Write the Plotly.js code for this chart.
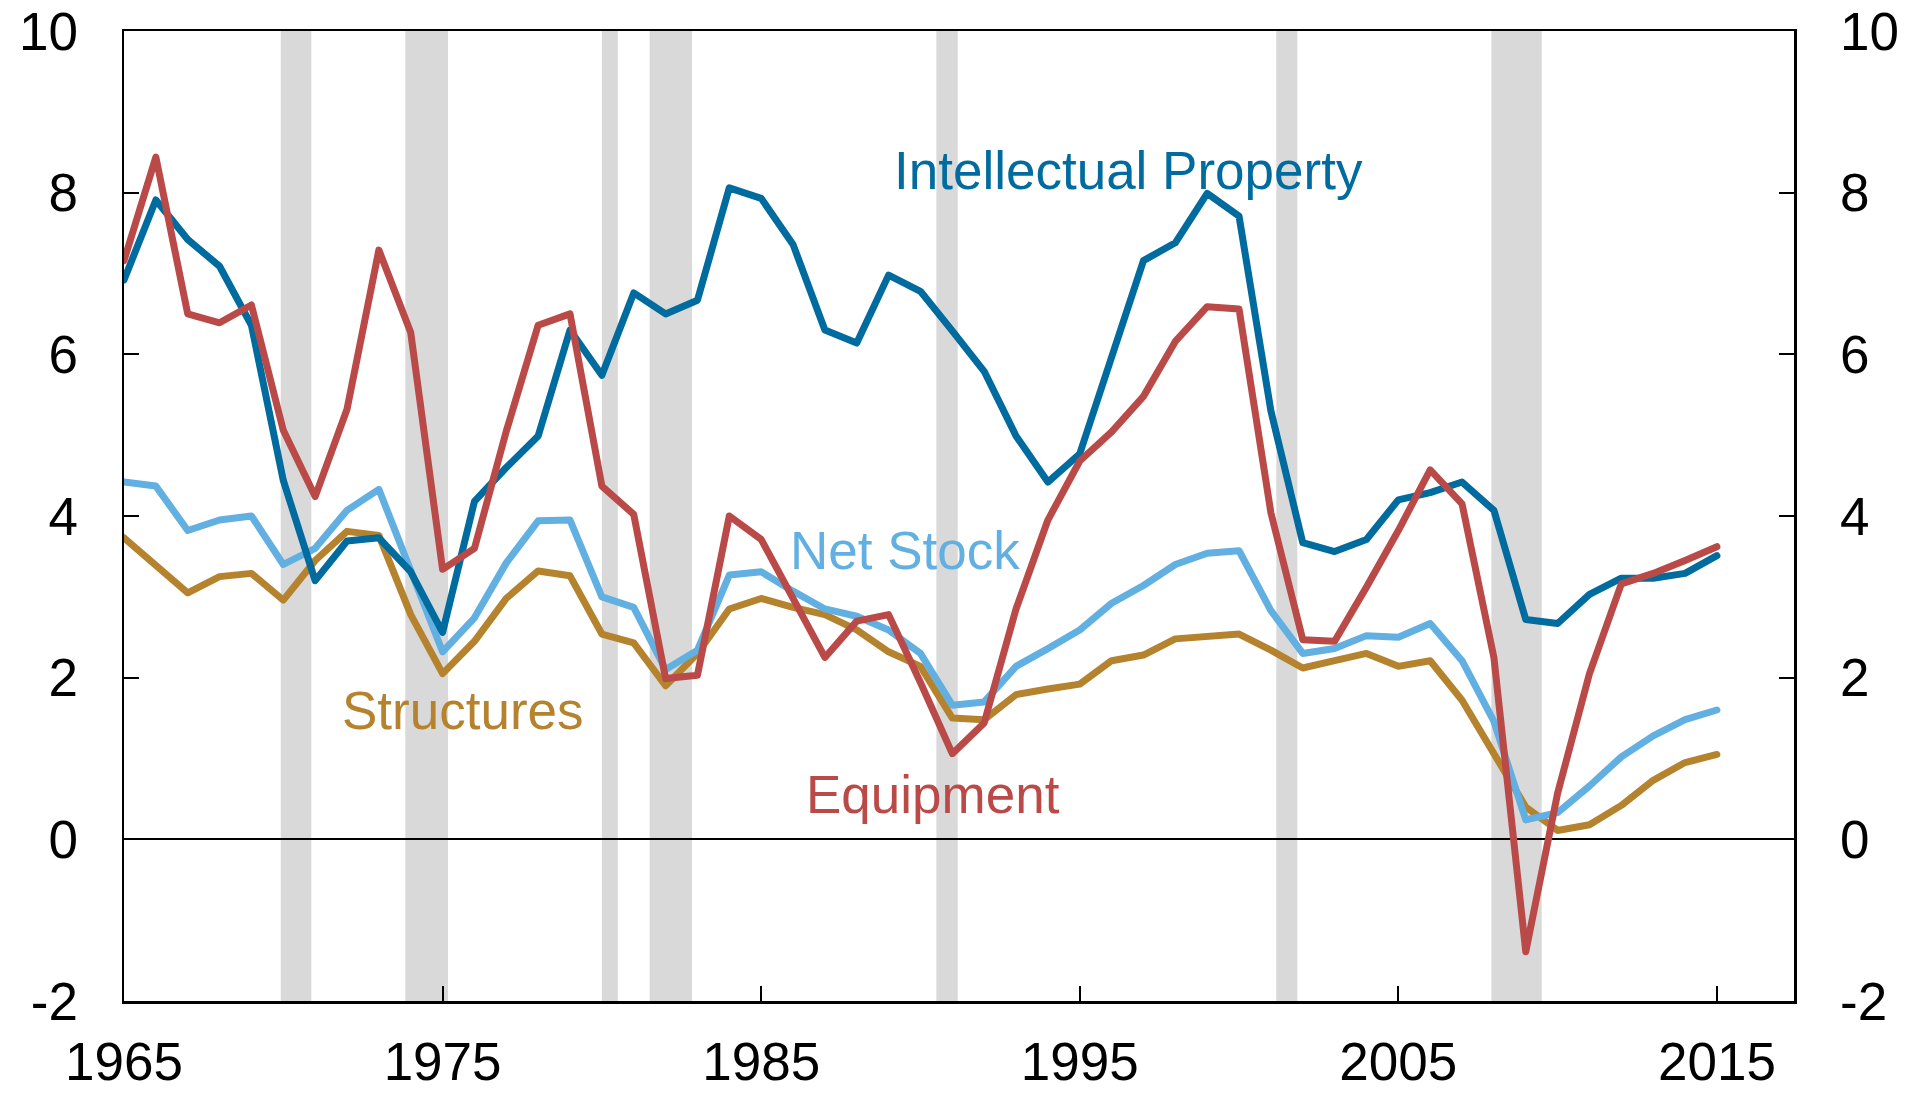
<!DOCTYPE html>
<html>
<head>
<meta charset="utf-8">
<script src="https://cdn.plot.ly/plotly-3.0.1.min.js"></script>
<style>
  html, body { margin: 0; padding: 0; background: #ffffff; }
  #chart { width: 1911px; height: 1095px; }
  #chart .scatterlayer path.js-line { stroke-linejoin: round; stroke-linecap: round; }
</style>
</head>
<body>
<div id="chart"></div>
<script>
const years = [1965, 1966, 1967, 1968, 1969, 1970, 1971, 1972, 1973, 1974,
               1975, 1976, 1977, 1978, 1979, 1980, 1981, 1982, 1983, 1984,
               1985, 1986, 1987, 1988, 1989, 1990, 1991, 1992, 1993, 1994,
               1995, 1996, 1997, 1998, 1999, 2000, 2001, 2002, 2003, 2004,
               2005, 2006, 2007, 2008, 2009, 2010, 2011, 2012, 2013, 2014,
               2015];

const equipment = [7.16, 8.44, 6.50, 6.39, 6.61, 5.06, 4.24, 5.32, 7.29, 6.27,
                   3.34, 3.60, 5.05, 6.36, 6.50, 4.37, 4.02, 1.99, 2.03, 4.00,
                   3.71, 2.96, 2.25, 2.70, 2.78, 1.94, 1.06, 1.44, 2.85, 3.95,
                   4.68, 5.04, 5.48, 6.16, 6.59, 6.56, 4.04, 2.47, 2.45, 3.12,
                   3.82, 4.57, 4.15, 2.25, -1.39, 0.57, 2.05, 3.16, 3.29, 3.45,
                   3.62];

const intellectualProperty = [6.92, 7.91, 7.42, 7.09, 6.36, 4.44, 3.20, 3.69, 3.73, 3.31,
                              2.56, 4.18, 4.60, 4.99, 6.30, 5.74, 6.76, 6.50, 6.67, 8.06,
                              7.93, 7.36, 6.30, 6.14, 6.98, 6.78, 6.29, 5.79, 4.99, 4.42,
                              4.77, 5.97, 7.16, 7.38, 7.99, 7.71, 5.30, 3.67, 3.56, 3.71,
                              4.20, 4.29, 4.42, 4.07, 2.72, 2.67, 3.03, 3.23, 3.23, 3.29,
                              3.51];

const netStock = [4.42, 4.37, 3.82, 3.95, 4.00, 3.40, 3.60, 4.07, 4.33, 3.34,
                  2.32, 2.74, 3.42, 3.94, 3.95, 3.00, 2.87, 2.10, 2.34, 3.27,
                  3.31, 3.07, 2.85, 2.76, 2.59, 2.30, 1.66, 1.70, 2.14, 2.36,
                  2.59, 2.92, 3.14, 3.40, 3.54, 3.57, 2.83, 2.30, 2.36, 2.52,
                  2.50, 2.67, 2.21, 1.46, 0.24, 0.33, 0.66, 1.02, 1.28, 1.48,
                  1.60];

const structures = [3.73, 3.38, 3.05, 3.25, 3.29, 2.96, 3.45, 3.81, 3.76, 2.78,
                    2.05, 2.45, 2.98, 3.32, 3.26, 2.54, 2.43, 1.90, 2.30, 2.85,
                    2.98, 2.87, 2.78, 2.59, 2.32, 2.14, 1.50, 1.48, 1.79, 1.86,
                    1.92, 2.21, 2.28, 2.48, 2.50, 2.54, 2.34, 2.12, 2.21, 2.30,
                    2.14, 2.21, 1.72, 1.08, 0.40, 0.11, 0.18, 0.42, 0.73, 0.95,
                    1.05];

// NBER recessions (decimal years)
const recessionStart = [1969.92, 1973.83, 1980.00, 1981.50, 1990.50, 2001.17, 2007.92];
const recessionEnd   = [1970.88, 1975.17, 1980.50, 1982.83, 1991.17, 2001.83, 2009.50];

const xTickVals = [1965, 1975, 1985, 1995, 2005, 2015];
const xTickText = ['1965', '1975', '1985', '1995', '2005', '2015'];
const yTickVals = [-2, 0, 2, 4, 6, 8, 10];
const yTickText = ['-2', '0', '2', '4', '6', '8', '10'];

const seriesLabels = ['Structures', 'Net Stock', 'Intellectual Property', 'Equipment'];
const labelX = [1975.63, 1989.52, 1996.53, 1990.40];
const labelY = [1.60, 3.57, 8.27, 0.56];

const colors = {
  structures: '#B5832E',
  netStock: '#62B0E2',
  ip: '#006B9F',
  equipment: '#BA4A47'
};
const labelColors = [colors.structures, colors.netStock, colors.ip, colors.equipment];

const FONT = 'Liberation Sans, Arial, Helvetica, sans-serif';
const FS = 53;
const LW = 7;

const traces = [
  {x: years, y: structures, mode: 'lines', line: {color: colors.structures, width: LW}, name: 'Structures'},
  {x: years, y: netStock, mode: 'lines', line: {color: colors.netStock, width: LW}, name: 'Net Stock'},
  {x: years, y: intellectualProperty, mode: 'lines', line: {color: colors.ip, width: LW}, name: 'Intellectual Property'},
  {x: years, y: equipment, mode: 'lines', line: {color: colors.equipment, width: LW}, name: 'Equipment'},
  {x: [years[0]], y: [null], yaxis: 'y2', mode: 'lines', showlegend: false, hoverinfo: 'skip'}
];

const shapes = recessionStart.map((s, i) => ({
  type: 'rect', xref: 'x', yref: 'paper',
  x0: s, x1: recessionEnd[i], y0: 0, y1: 1,
  fillcolor: '#D9D9D9', line: {width: 0}, layer: 'below'
}));

const annotations = seriesLabels.map((t, i) => ({
  text: t, x: labelX[i], y: labelY[i], xref: 'x', yref: 'y',
  showarrow: false, xanchor: 'center', yanchor: 'middle',
  font: {family: FONT, size: FS, color: labelColors[i]}
}));

const yCommon = {
  range: [-2, 10], tickvals: yTickVals, ticktext: yTickText,
  ticks: 'inside', ticklen: 15, tickwidth: 2, tickcolor: '#000',
  showline: true, linecolor: '#000', linewidth: 2.5,
  showgrid: false, fixedrange: true,
  tickfont: {family: FONT, size: FS, color: '#000'},
  ticklabelstandoff: 33
};

const layout = {
  width: 1911, height: 1095,
  margin: {l: 124, r: 117, t: 31, b: 94, pad: 0},
  paper_bgcolor: '#ffffff', plot_bgcolor: '#ffffff',
  showlegend: false,
  xaxis: {
    range: [1965, 2017.42], tickvals: xTickVals, ticktext: xTickText,
    ticks: 'inside', ticklen: 15, tickwidth: 2, tickcolor: '#000',
    showline: true, linecolor: '#000', linewidth: 2.5, mirror: true,
    showgrid: false, zeroline: false,
    tickfont: {family: FONT, size: FS, color: '#000'},
    ticklabelstandoff: 13
  },
  yaxis: Object.assign({}, yCommon, {
    side: 'left', zeroline: true, zerolinecolor: '#000', zerolinewidth: 2
  }),
  yaxis2: Object.assign({}, yCommon, {
    side: 'right', overlaying: 'y', anchor: 'x', zeroline: false
  }),
  shapes: shapes,
  annotations: annotations
};

Plotly.newPlot('chart', traces, layout, {displayModeBar: false, staticPlot: true});
</script>
</body>
</html>
